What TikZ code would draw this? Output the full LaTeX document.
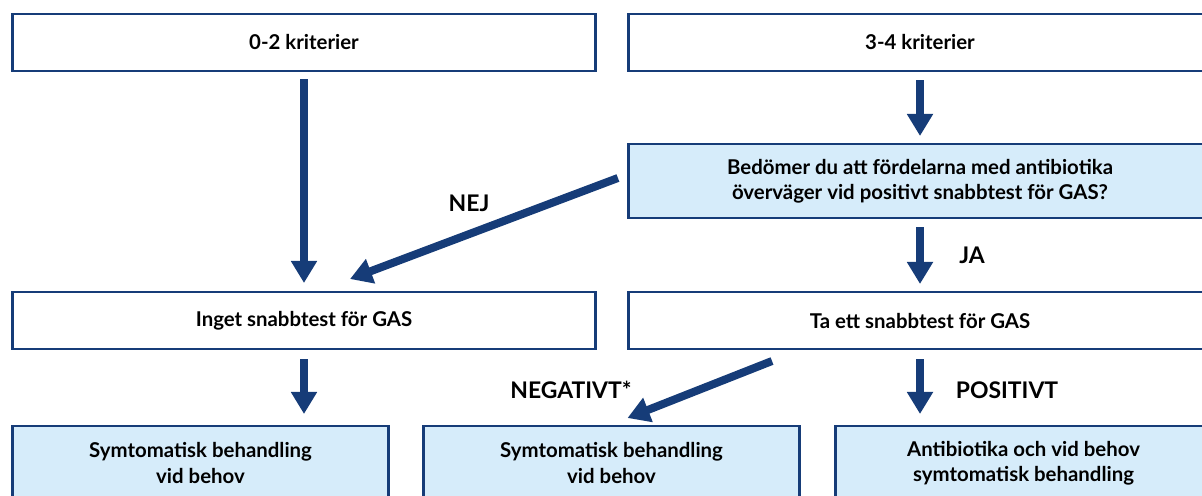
\documentclass[tikz,border=0pt]{standalone}
\usepackage{fontspec}
\setmainfont{Lato}
\usepackage{xcolor}
\usetikzlibrary{positioning, calc, arrows.meta}

\definecolor{morkbla}{RGB}{22,60,120}
\definecolor{ljusbla}{RGB}{214,236,250}

\begin{document}
\begin{tikzpicture}[
    x=0.025cm, y=-0.025cm,
    every node/.style={font=\fontsize{14.5}{18}\selectfont\bfseries},
    ruta/.style={
        rectangle,
        draw=morkbla,
        line width=2.1pt,
        fill=white,
        minimum width=14.55cm,
        minimum height=1.425cm,
        align=center,
        inner sep=0pt,
        outer sep=0pt
    },
    fraga/.style={
        ruta,
        fill=ljusbla,
        minimum height=1.85cm
    },
    slut/.style={
        ruta,
        fill=ljusbla,
        minimum width=9.375cm,
        minimum height=1.85cm
    },
    etikett/.style={
        font=\fontsize{16.3}{19}\selectfont\bfseries
    },
    pil/.style={
        -{Triangle[width=0.62cm, length=0.55cm]},
        draw=morkbla,
        line width=0.2cm
    }
]

\useasboundingbox (0,0) rectangle (1202,495);
\clip (0,0) rectangle (1202,495);

% Rutor
\node[ruta] (krit02) at (304,42.5) {0-2 kriterier};
\node[ruta] (krit34) at (920,42.5) {3-4 kriterier};

\node[fraga] (fragan) at (920,181)
    {Bedömer du att fördelarna med antibiotika\\överväger vid positivt snabbtest för GAS?};

\node[ruta] (ingettest) at (304,320.5) {Inget snabbtest för GAS};
\node[ruta] (snabbtest) at (920,320.5) {Ta ett snabbtest för GAS};

\node[slut] (symt1) at (200.5,463) {Symtomatisk behandling\\vid behov};
\node[slut] (symt2) at (611.5,463) {Symtomatisk behandling\\vid behov};
\node[slut] (antibiotika) at (1023.5,463) {Antibiotika och vid behov\\symtomatisk behandling};


% 0-2 kriterier -> Inget snabbtest
\draw[pil]
    ($(krit02.south)+(0,8)$) -- ($(ingettest.north)+(0,-9)$);

% 3-4 kriterier -> fraga
\draw[pil]
    ($(krit34.south)+(0,9)$) -- ($(fragan.north)+(0,-8)$);

% fraga -> Inget snabbtest : NEJ
\draw[pil]
    ($(fragan.west)+(-11,-3)$) -- ($(ingettest.north)+(46,-13)$);
\node[etikett] (nej) at (469,203) {NEJ};

% fraga -> Ta ett snabbtest : JA
\draw[pil]
    ($(fragan.south)+(0,9)$) -- ($(snabbtest.north)+(0,-8)$);
\node[etikett] (ja) at (972,255) {JA};

% Inget snabbtest -> symtomatisk behandling
\draw[pil]
    ($(ingettest.south)+(0,10)$) -- ($(ingettest.south |- symt1.north)+(0,-12)$);

% Ta ett snabbtest -> symtomatisk behandling : NEGATIVT
\draw[pil]
    ($(snabbtest.south)+(-148,12)$) -- ($(symt2.north)+(16,-8)$);
\node[etikett] (negativt) at (571,390) {NEGATIVT*};

% Ta ett snabbtest -> antibiotika : POSITIVT
\draw[pil]
    ($(snabbtest.south)+(0,10)$) -- ($(snabbtest.south |- antibiotika.north)+(0,-12)$);
\node[etikett] (positivt) at (1007,390) {POSITIVT};

\end{tikzpicture}
\end{document}
